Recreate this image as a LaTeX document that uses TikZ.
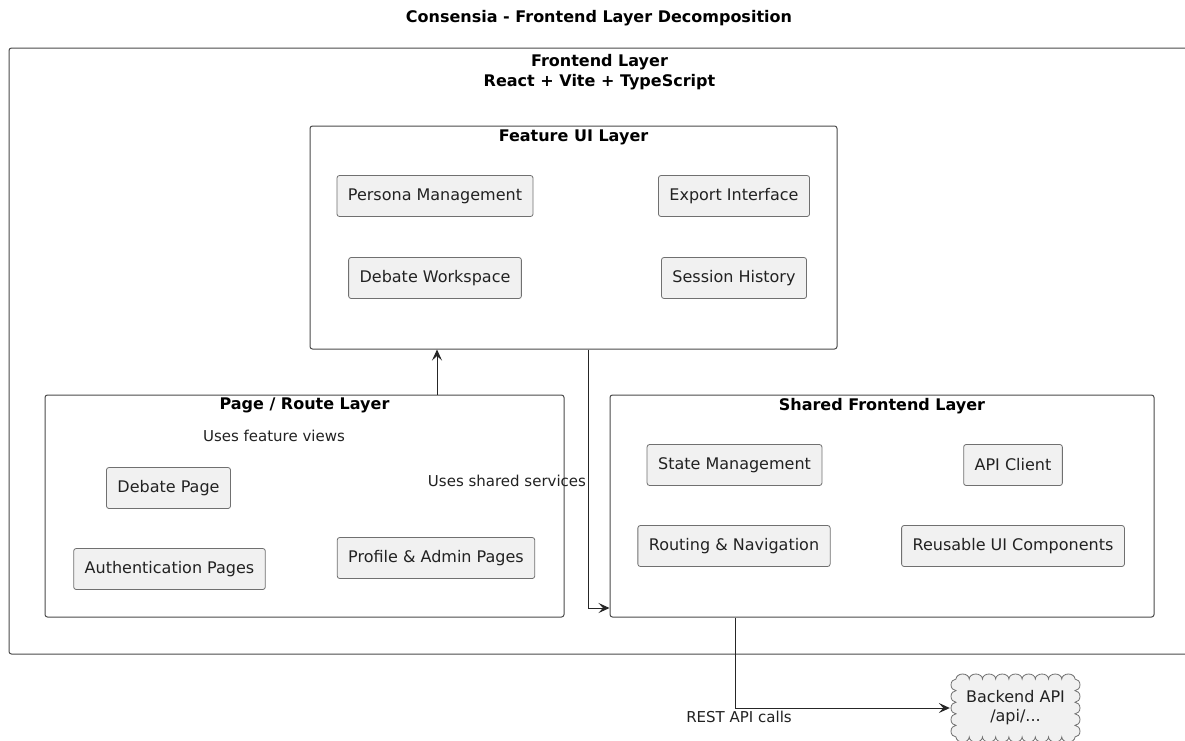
\documentclass[tikz,border=0pt]{standalone}
\usepackage{fontspec}
\setmainfont{DejaVu Sans}
\usetikzlibrary{arrows.meta}
\definecolor{boxfill}{HTML}{F1F1F1}
\definecolor{boxline}{HTML}{707070}
\definecolor{frameline}{HTML}{4A4A4A}
\definecolor{ink}{HTML}{222222}
\tikzset{
  comp/.style={draw=boxline, fill=boxfill, rounded corners=2.5pt, line width=0.8pt,
    font=\fontsize{16}{18}\selectfont, text=ink, inner xsep=11pt, inner ysep=0pt, minimum height=41pt},
  layer/.style={draw=frameline, rounded corners=2.5pt, line width=1pt, inner sep=0pt},
  layertitle/.style={font=\fontsize{16}{20.5}\selectfont\bfseries, text=black, anchor=north, inner sep=0pt, align=center},
  lbl/.style={font=\fontsize{15}{18}\selectfont, text=ink, inner sep=0pt},
  conn/.style={draw=black!85, line width=0.9pt, -{Stealth[length=11pt,width=10pt,inset=4.5pt]}},
  cloudline/.style={draw=boxline, fill=boxfill, line width=0.8pt},
  cloudtext/.style={font=\fontsize{16}{19}\selectfont, text=ink, align=center, inner sep=0pt}
}
\begin{document}
\begin{tikzpicture}[x=1pt,y=-1pt]
\useasboundingbox (0,0) rectangle (1185,740);
\clip (0,0) rectangle (1185,740);
\fill[white] (0,0) rectangle (1185,740);

% diagram title
\node[font=\fontsize{16}{19}\selectfont\bfseries, inner sep=0pt] (title) at (599,18) {Consensia - Frontend Layer Decomposition};

% outer frame
\node[layer, minimum width=1200pt, minimum height=606pt] (front) at (609,351) {};
\node[layertitle] (fronttitle) at (599.5,54) {Frontend Layer\\React + Vite + TypeScript};

% feature UI layer
\node[layer, minimum width=527pt, minimum height=223pt] (feat) at (573.5,237.5) {};
\node[layertitle] (feattitle) at (573.5,130) {Feature UI Layer};
\node[comp] (persona) at (435,196) {Persona Management};
\node[comp] (export) at (734,196) {Export Interface};
\node[comp] (workspace) at (435,278) {Debate Workspace};
\node[comp] (history) at (734,278) {Session History};

% page / route layer
\node[layer, minimum width=519pt, minimum height=222pt] (page) at (304.5,506) {};
\node[layertitle] (pagetitle) at (304.5,398) {Page / Route Layer};
\node[comp] (debatepage) at (168.5,488) {Debate Page};
\node[comp] (auth) at (169.5,569) {Authentication Pages};
\node[comp] (profile) at (436,558) {Profile \& Admin Pages};

% shared frontend layer
\node[layer, minimum width=544pt, minimum height=222pt] (shared) at (882,506) {};
\node[layertitle] (sharedtitle) at (882,398) {Shared Frontend Layer};
\node[comp] (state) at (734.5,465) {State Management};
\node[comp] (apiclient) at (1013,465) {API Client};
\node[comp] (routing) at (734,546) {Routing \& Navigation};
\node[comp] (reusable) at (1013,546) {Reusable UI Components};

% backend cloud: scalloped outline (arc angles are on the page, y up), then the named node on top
\path[cloudline] (956,679)
  \foreach \i in {1,...,9} { arc[start angle=180, end angle=0, x radius=6.61pt, y radius=5pt] }
  \foreach \i in {1,...,5} { arc[start angle=90, end angle=-90, x radius=5pt, y radius=5.8pt] }
  \foreach \i in {1,...,9} { arc[start angle=0, end angle=-180, x radius=6.61pt, y radius=5pt] }
  \foreach \i in {1,...,5} { arc[start angle=270, end angle=90, x radius=5pt, y radius=5.8pt] }
  -- cycle;
\node[cloudtext, minimum width=131pt, minimum height=66pt] (backend) at (1015.5,708) {Backend API\\/api/...};

% dependencies
\draw[conn] (page.north -| 437,0) -- (feat.south -| 437,0);
\node[lbl] (usesfeat) at (274,436) {Uses feature views};
\draw[conn] (feat.south -| 588,0) |- (shared.west |- 0,608);
\node[lbl] (usesshared) at (507,481) {Uses shared services};
\draw[conn] (shared.south -| 735,0) |- (backend.west);
\node[lbl] (rest) at (739,717) {REST API calls};
\end{tikzpicture}
\end{document}
